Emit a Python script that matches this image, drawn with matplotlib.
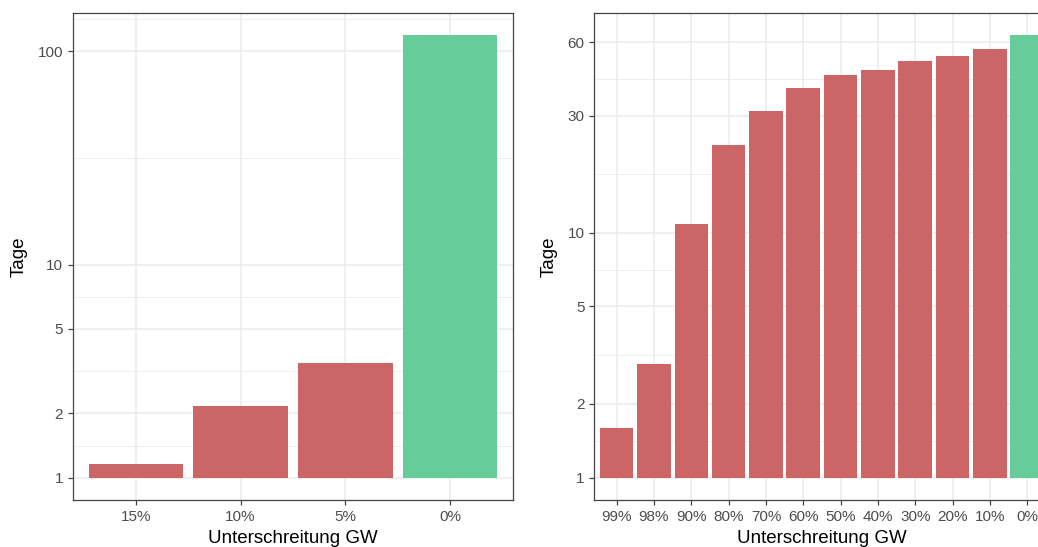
import numpy as np
import matplotlib
matplotlib.use('Agg')
import matplotlib.pyplot as plt
from matplotlib.ticker import FixedLocator, NullFormatter

plt.rcParams['font.family'] = ['Liberation Sans', 'DejaVu Sans']

# Daten
left_cats = ['15%', '10%', '5%', '0%']
left_vals = [1.16, 2.17, 3.45, 119]
left_ticks = [1, 2, 5, 10, 100]

right_cats = ['99%', '98%', '90%', '80%', '70%', '60%', '50%', '40%',
              '30%', '20%', '10%', '0%']
right_vals = [1.59, 2.90, 10.8, 22.7, 31.5, 39.1, 43.9, 46.1, 50.0, 52.5, 56.0, 63.9]
right_ticks = [1, 2, 5, 10, 30, 60]

RED = '#CC6666'
GREEN = '#66CC99'
GRID = '#EBEBEB'


def minor_breaks(majors, lo, hi):
    # ggplot-artige Nebengitterlinien (Mitte zwischen Hauptlinien, log-Raum)
    b = list(np.log10(majors))
    bd = b[1] - b[0]
    if lo < b[0]:
        b = [b[0] - bd] + b
    if hi > b[-1]:
        b = b + [b[-1] + bd]
    mids = [(b[i] + b[i + 1]) / 2 for i in range(len(b) - 1)]
    return [10 ** m for m in mids if lo <= m <= hi]


def draw_panel(ax, cats, vals, ticks):
    x = np.arange(1, len(cats) + 1)
    cols = [RED] * (len(vals) - 1) + [GREEN]
    vals = np.array(vals)
    ax.set_yscale('log')
    ax.bar(x, vals - 1, bottom=1, width=0.9, color=cols, zorder=2)

    hi = np.log10(vals.max())
    lo = 0.0
    pad = 0.05 * (hi - lo)
    ax.set_ylim(10 ** (lo - pad), 10 ** (hi + pad))
    ax.set_xlim(0.4, len(cats) + 0.6)

    ax.yaxis.set_major_locator(FixedLocator(ticks))
    ax.set_yticklabels([str(t) for t in ticks])
    ax.yaxis.set_minor_locator(FixedLocator(minor_breaks(ticks, lo - pad, hi + pad)))
    ax.yaxis.set_minor_formatter(NullFormatter())
    ax.set_xticks(x)
    ax.set_xticklabels(cats)

    ax.grid(True, which='major', color=GRID, lw=1.1, zorder=0)
    ax.grid(True, which='minor', axis='y', color=GRID, lw=0.6, zorder=0)
    ax.set_axisbelow(True)
    ax.tick_params(which='major', length=3.6, width=0.9, color='#444444',
                   labelsize=11, labelcolor='#4D4D4D', pad=3.5)
    ax.tick_params(which='minor', length=0)
    for s in ax.spines.values():
        s.set_color('#444444')
        s.set_linewidth(0.9)
    ax.set_ylabel('Tage', fontsize=13.5, labelpad=7)
    ax.set_xlabel('Unterschreitung GW', fontsize=13.5, labelpad=4.5)


fig = plt.figure(figsize=(10.38, 5.47), dpi=100)
ax1 = fig.add_axes([0.0703, 0.0865, 0.4239, 0.8892])
ax2 = fig.add_axes([0.5725, 0.0865, 0.4387, 0.8892])
draw_panel(ax1, left_cats, left_vals, left_ticks)
draw_panel(ax2, right_cats, right_vals, right_ticks)

fig.savefig('out.png', dpi=100)
